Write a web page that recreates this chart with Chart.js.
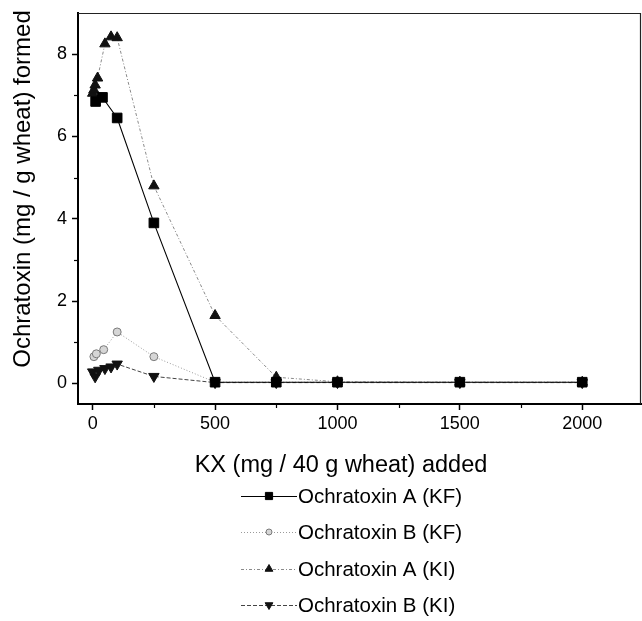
<!DOCTYPE html>
<html>
<head>
<meta charset="utf-8">
<script src="https://cdn.jsdelivr.net/npm/chart.js@4/dist/chart.umd.min.js"></script>
<style>
  html, body { margin: 0; padding: 0; background: #fff; }
  #wrap { width: 642px; height: 621px; }
</style>
</head>
<body>
<div id="wrap"><canvas id="c" width="642" height="621"></canvas></div>
<script>
// KX added (mg / 40 g wheat) for each series
const kfAX = [12, 40, 100, 250, 500, 750, 1000, 1500, 2000];
const kfAY = [6.85, 6.95, 6.45, 3.9, 0.03, 0.03, 0.03, 0.03, 0.03];

const kfBX = [5, 15, 45, 100, 250, 500, 750, 1000, 1500, 2000];
const kfBY = [0.65, 0.72, 0.82, 1.25, 0.65, 0.03, 0.03, 0.03, 0.03, 0.03];

const kiAX = [0, 5, 10, 20, 50, 75, 100, 250, 500, 750, 1000, 1500, 2000];
const kiAY = [7.05, 7.13, 7.25, 7.42, 8.25, 8.42, 8.4, 4.8, 1.65, 0.15, 0.04, 0.03, 0.03];

const kiBX = [0, 10, 25, 50, 75, 100, 250, 500, 750, 1000, 1500, 2000];
const kiBY = [0.28, 0.16, 0.32, 0.36, 0.4, 0.47, 0.17, 0.02, 0.02, 0.02, 0.02, 0.02];

const seriesNames = ['Ochratoxin A (KF)', 'Ochratoxin B (KF)', 'Ochratoxin A (KI)', 'Ochratoxin B (KI)'];

const xTicks = [0, 500, 1000, 1500, 2000];
const xMinor = [250, 750, 1250, 1750];
const yTicks = [0, 2, 4, 6, 8];
const yMinor = [1, 3, 5, 7];

const xTitle = 'KX (mg / 40 g wheat) added';
const yTitle = 'Ochratoxin (mg / g wheat) formed';

const FONT = '"Liberation Sans", Arial, Helvetica, sans-serif';

function pts(xs, ys) { return xs.map((x, i) => ({ x: x, y: ys[i] })); }

const styles = [
  { color: '#000', dash: [], point: 'rect', radius: 6.8, fill: '#000', pborder: '#000', rot: 0, lw: 1.1 },
  { color: '#9a9a9a', dash: [1, 2], point: 'circle', radius: 4, fill: '#d6d6d6', pborder: '#7a7a7a', rot: 0, lw: 1 },
  { color: '#8a8a8a', dash: [3, 2, 1, 2], point: 'triangle', radius: 6, fill: '#111', pborder: '#111', rot: 0, lw: 1 },
  { color: '#444', dash: [4, 2], point: 'triangle', radius: 6, fill: '#111', pborder: '#111', rot: 180, lw: 1 }
];

const rawData = [[kfAX, kfAY], [kfBX, kfBY], [kiAX, kiAY], [kiBX, kiBY]];

const datasets = rawData.map((d, i) => ({
  label: seriesNames[i],
  data: pts(d[0], d[1]),
  showLine: true,
  borderColor: styles[i].color,
  borderWidth: styles[i].lw,
  borderDash: styles[i].dash,
  pointStyle: styles[i].point,
  pointRadius: styles[i].radius,
  pointRotation: styles[i].rot,
  pointBackgroundColor: styles[i].fill,
  pointBorderColor: styles[i].pborder,
  pointBorderWidth: 1,
  tension: 0
}));

// Minor ticks, closed frame, axis titles and the line/marker legend
const decor = {
  id: 'decor',
  afterDraw(chart) {
    const ctx = chart.ctx;
    const xs = chart.scales.x, ys = chart.scales.y;
    const a = chart.chartArea;
    ctx.save();
    ctx.strokeStyle = '#000';
    ctx.lineWidth = 1.2;
    xMinor.forEach(v => {
      const p = Math.round(xs.getPixelForValue(v)) + 0.5;
      ctx.beginPath(); ctx.moveTo(p, a.bottom); ctx.lineTo(p, a.bottom + 4); ctx.stroke();
    });
    yMinor.forEach(v => {
      const p = Math.round(ys.getPixelForValue(v)) + 0.5;
      ctx.beginPath(); ctx.moveTo(a.left, p); ctx.lineTo(a.left - 4, p); ctx.stroke();
    });
    // top and right frame
    ctx.strokeStyle = '#222';
    ctx.lineWidth = 1.2;
    ctx.beginPath();
    ctx.moveTo(a.left, a.top + 0.5);
    ctx.lineTo(a.right - 0.5, a.top + 0.5);
    ctx.lineTo(a.right - 0.5, a.bottom);
    ctx.stroke();

    // axis titles
    ctx.fillStyle = '#000';
    ctx.font = '23.5px ' + FONT;
    ctx.textAlign = 'center';
    ctx.textBaseline = 'middle';
    ctx.fillText(xTitle, 341, 466);
    ctx.save();
    ctx.translate(23, 189);
    ctx.rotate(-Math.PI / 2);
    ctx.font = '24px ' + FONT;
    ctx.fillText(yTitle, 0, 0);
    ctx.restore();

    // legend
    const rowY = [496, 532, 569, 605];
    chart.data.datasets.forEach((ds, i) => {
      const y = rowY[i];
      const st = styles[i];
      ctx.save();
      ctx.strokeStyle = st.color;
      ctx.lineWidth = 1;
      ctx.setLineDash(st.dash);
      ctx.beginPath(); ctx.moveTo(241, y + 0.5); ctx.lineTo(297, y + 0.5); ctx.stroke();
      ctx.setLineDash([]);
      ctx.fillStyle = st.fill;
      ctx.strokeStyle = st.pborder;
      Chart.helpers.drawPoint(ctx, {
        pointStyle: st.point,
        radius: st.radius * 0.75,
        rotation: st.rot,
        borderWidth: 1
      }, 269, y);
      ctx.restore();
      ctx.fillStyle = '#000';
      ctx.font = '20.5px ' + FONT;
      ctx.textAlign = 'left';
      ctx.textBaseline = 'middle';
      ctx.fillText(ds.label, 298, y + 1);
    });
    ctx.restore();
  }
};

new Chart(document.getElementById('c'), {
  type: 'scatter',
  data: { datasets: datasets },
  options: {
    responsive: false,
    animation: false,
    devicePixelRatio: 1,
    layout: { autoPadding: false, padding: { left: 0, top: 13, right: 1, bottom: 0 } },
    plugins: { legend: { display: false }, tooltip: { enabled: false } },
    scales: {
      x: {
        type: 'linear',
        min: -60,
        max: 2240,
        afterFit(scale) { scale.height = 217; scale.paddingLeft = 0; scale.paddingRight = 0; },
        afterBuildTicks(scale) { scale.ticks = xTicks.map(v => ({ value: v })); },
        grid: { drawOnChartArea: false, drawTicks: true, tickLength: 6, tickWidth: 1.5, tickColor: '#000' },
        border: { display: true, color: '#000', width: 2 },
        ticks: { color: '#000', padding: 3, maxRotation: 0, font: { family: FONT, size: 18 },
                 callback: v => String(v) }
      },
      y: {
        type: 'linear',
        min: -0.5,
        max: 9,
        afterFit(scale) { scale.width = 78; scale.paddingTop = 0; scale.paddingBottom = 0; },
        afterBuildTicks(scale) { scale.ticks = yTicks.map(v => ({ value: v })); },
        grid: { drawOnChartArea: false, drawTicks: true, tickLength: 6, tickWidth: 1.5, tickColor: '#000' },
        border: { display: true, color: '#000', width: 2 },
        ticks: { color: '#000', padding: 5, font: { family: FONT, size: 18 },
                 callback: v => String(v) }
      }
    }
  },
  plugins: [decor]
});
</script>
</body>
</html>
